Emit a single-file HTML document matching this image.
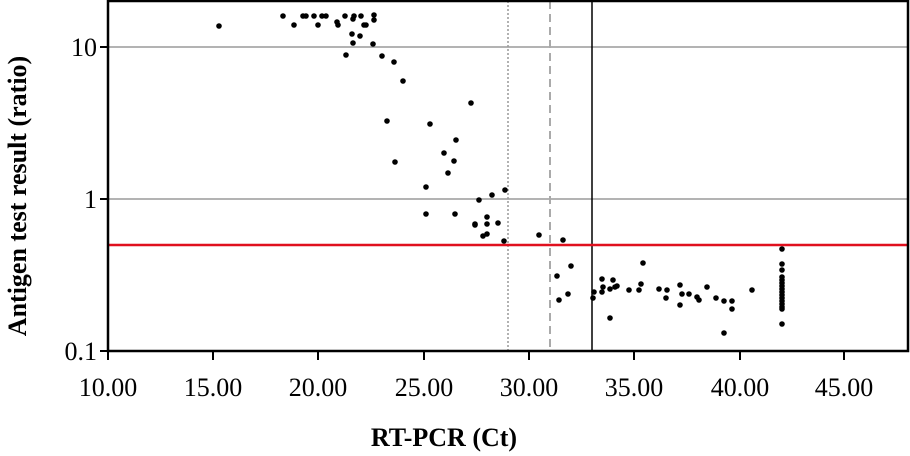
<!DOCTYPE html>
<html><head><style>
body{margin:0;background:#fff}
svg{display:block}
text{font-family:"Liberation Serif",serif;fill:#000}
</style></head><body>
<svg width="910" height="456" viewBox="0 0 910 456">
<line x1="108" y1="47" x2="908" y2="47" stroke="#b3b3b3" stroke-width="2"/>
<line x1="108" y1="199" x2="908" y2="199" stroke="#b3b3b3" stroke-width="2"/>
<line x1="508" y1="1" x2="508" y2="351" stroke="#999" stroke-width="1.5" stroke-dasharray="2,2"/>
<line x1="550" y1="1" x2="550" y2="351" stroke="#aaa" stroke-width="2" stroke-dasharray="8,5"/>
<line x1="592" y1="1" x2="592" y2="351" stroke="#000" stroke-width="1.5"/>
<line x1="108" y1="245" x2="908" y2="245" stroke="#e0101e" stroke-width="2.5"/>
<rect x="108" y="1" width="800" height="350" fill="none" stroke="#000" stroke-width="2.5"/>
<g stroke="#000" stroke-width="2">
<line x1="108" y1="351" x2="108" y2="360"/><line x1="213" y1="351" x2="213" y2="360"/><line x1="318" y1="351" x2="318" y2="360"/><line x1="424" y1="351" x2="424" y2="360"/><line x1="529" y1="351" x2="529" y2="360"/><line x1="634" y1="351" x2="634" y2="360"/><line x1="740" y1="351" x2="740" y2="360"/><line x1="844" y1="351" x2="844" y2="360"/>
<line x1="100" y1="47" x2="108" y2="47"/><line x1="100" y1="199" x2="108" y2="199"/><line x1="100" y1="351" x2="108" y2="351"/>
</g>
<g font-size="26" text-anchor="middle">
<text x="108" y="396">10.00</text><text x="213" y="396">15.00</text><text x="318" y="396">20.00</text><text x="424" y="396">25.00</text><text x="529" y="396">30.00</text><text x="634" y="396">35.00</text><text x="740" y="396">40.00</text><text x="844" y="396">45.00</text>
</g>
<g font-size="26" text-anchor="end">
<text x="97" y="56">10</text><text x="97" y="208">1</text><text x="97" y="360">0.1</text>
</g>
<text x="444" y="446" font-size="26" font-weight="bold" text-anchor="middle">RT-PCR (Ct)</text>
<text transform="translate(26,196) rotate(-90)" font-size="26" font-weight="bold" text-anchor="middle">Antigen test result (ratio)</text>
<g fill="#000">
<circle cx="219" cy="26" r="2.8"/><circle cx="283" cy="16" r="2.8"/><circle cx="294" cy="25" r="2.8"/><circle cx="303" cy="16" r="2.8"/><circle cx="306" cy="16" r="2.8"/><circle cx="314" cy="16" r="2.8"/><circle cx="318" cy="25" r="2.8"/><circle cx="322" cy="16" r="2.8"/><circle cx="326" cy="16" r="2.8"/><circle cx="337" cy="22" r="2.8"/><circle cx="338" cy="25" r="2.8"/><circle cx="345" cy="16" r="2.8"/><circle cx="353" cy="19" r="2.8"/><circle cx="354" cy="16" r="2.8"/><circle cx="361" cy="16" r="2.8"/><circle cx="364" cy="25" r="2.8"/><circle cx="366" cy="25" r="2.8"/><circle cx="374" cy="15" r="2.8"/><circle cx="374" cy="20" r="2.8"/><circle cx="352" cy="34" r="2.8"/><circle cx="360" cy="36" r="2.8"/><circle cx="353" cy="43" r="2.8"/><circle cx="373" cy="44" r="2.8"/><circle cx="346" cy="55" r="2.8"/><circle cx="382" cy="56" r="2.8"/><circle cx="394" cy="62" r="2.8"/><circle cx="403" cy="81" r="2.8"/><circle cx="471" cy="103" r="2.8"/><circle cx="387" cy="121" r="2.8"/><circle cx="430" cy="124" r="2.8"/><circle cx="456" cy="140" r="2.8"/><circle cx="444" cy="153" r="2.8"/><circle cx="454" cy="161" r="2.8"/><circle cx="395" cy="162" r="2.8"/><circle cx="448" cy="173" r="2.8"/><circle cx="426" cy="187" r="2.8"/><circle cx="505" cy="190" r="2.8"/><circle cx="492" cy="195" r="2.8"/><circle cx="479" cy="200" r="2.8"/><circle cx="426" cy="214" r="2.8"/><circle cx="455" cy="214" r="2.8"/><circle cx="487" cy="217" r="2.8"/><circle cx="475" cy="224" r="2.8"/><circle cx="475" cy="225" r="2.8"/><circle cx="487" cy="224" r="2.8"/><circle cx="498" cy="223" r="2.8"/><circle cx="483" cy="236" r="2.8"/><circle cx="487" cy="234" r="2.8"/><circle cx="504" cy="241" r="2.8"/>
<circle cx="539" cy="235" r="2.8"/><circle cx="563" cy="240" r="2.8"/><circle cx="557" cy="276" r="2.8"/><circle cx="571" cy="266" r="2.8"/><circle cx="559" cy="300" r="2.8"/><circle cx="568" cy="294" r="2.8"/><circle cx="593" cy="298" r="2.8"/><circle cx="594" cy="292" r="2.8"/><circle cx="602" cy="279" r="2.8"/><circle cx="603" cy="287" r="2.8"/><circle cx="602" cy="292" r="2.8"/><circle cx="610" cy="289" r="2.8"/><circle cx="613" cy="280" r="2.8"/><circle cx="615" cy="287" r="2.8"/><circle cx="617" cy="286" r="2.8"/><circle cx="610" cy="318" r="2.8"/><circle cx="629" cy="290" r="2.8"/><circle cx="639" cy="290" r="2.8"/><circle cx="641" cy="284" r="2.8"/><circle cx="643" cy="263" r="2.8"/><circle cx="659" cy="289" r="2.8"/><circle cx="667" cy="290" r="2.8"/><circle cx="666" cy="298" r="2.8"/><circle cx="680" cy="285" r="2.8"/><circle cx="682" cy="294" r="2.8"/><circle cx="680" cy="305" r="2.8"/><circle cx="689" cy="294" r="2.8"/><circle cx="697" cy="297" r="2.8"/><circle cx="699" cy="300" r="2.8"/><circle cx="707" cy="287" r="2.8"/><circle cx="716" cy="298" r="2.8"/><circle cx="724" cy="301" r="2.8"/><circle cx="732" cy="301" r="2.8"/><circle cx="732" cy="309" r="2.8"/><circle cx="724" cy="333" r="2.8"/><circle cx="752" cy="290" r="2.8"/>
<circle cx="782" cy="249" r="2.8"/><circle cx="782" cy="264" r="2.8"/><circle cx="782" cy="270" r="2.8"/><circle cx="782" cy="277" r="2.8"/><circle cx="782" cy="280" r="2.8"/><circle cx="782" cy="283" r="2.8"/><circle cx="782" cy="286" r="2.8"/><circle cx="782" cy="289" r="2.8"/><circle cx="782" cy="292" r="2.8"/><circle cx="782" cy="295" r="2.8"/><circle cx="782" cy="298" r="2.8"/><circle cx="782" cy="301" r="2.8"/><circle cx="782" cy="304" r="2.8"/><circle cx="782" cy="307" r="2.8"/><circle cx="782" cy="309" r="2.8"/><circle cx="782" cy="324" r="2.8"/>
</g>
</svg>
</body></html>
